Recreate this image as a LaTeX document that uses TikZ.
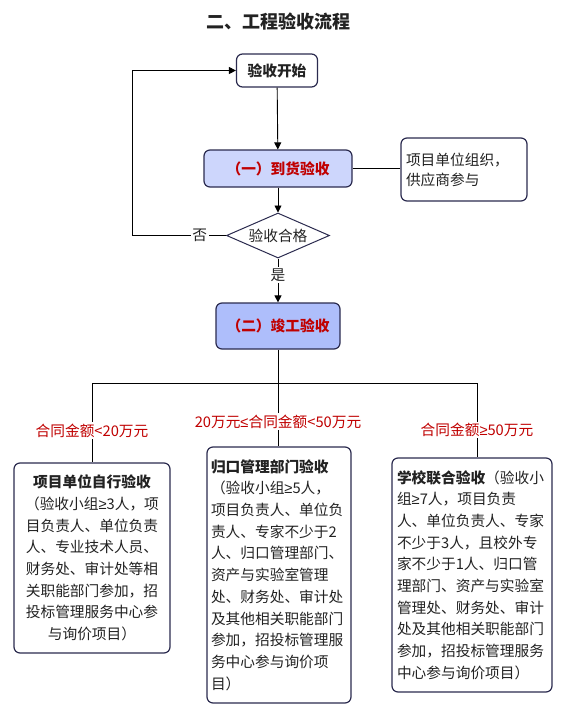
\documentclass[tikz,border=0pt]{standalone}
\usepackage{fontspec}
\setmainfont{Noto Sans CJK SC}
\newfontfamily\symfont{Liberation Sans}
\usetikzlibrary{shapes.geometric, arrows.meta, positioning, calc}

\definecolor{boxline}{HTML}{2B2B4F}
\definecolor{lightblue}{HTML}{CDD6FC}
\definecolor{midblue}{HTML}{AEBEFB}
\definecolor{darkred}{HTML}{C00000}
\definecolor{ink}{HTML}{222222}

\newcommand{\gesym}{{\symfont ≥}}
\newcommand{\lesym}{{\symfont ≤}}

\begin{document}
\begin{tikzpicture} [
    x=1pt, y=-1pt,
    font=\fontsize{14.7}{21.7}\selectfont, text=ink,
    block/.style={rectangle, draw=boxline, line width=1.2pt, fill=white, rounded corners=6pt, inner sep=0pt},
    stage_block/.style={block, font=\fontsize{14.7}{21.7}\selectfont\bfseries, text=darkred},
    decision/.style={diamond, aspect=2.3, draw=boxline, line width=1pt, fill=white, inner sep=0pt, minimum width=103pt, minimum height=45pt},
    line/.style={draw, -{Triangle[length=7pt,width=7pt]}, line width=0.9pt},
    plain/.style={draw, line width=0.9pt},
    anno/.style={fill=white, inner sep=1.5pt},
    cond/.style={fill=white, inner sep=1.5pt, text=darkred}
]
    \useasboundingbox (0,0) rectangle (562,716);

    % Nodes
    \node (title) at (278,22) {\fontsize{18}{22}\selectfont\bfseries 二、工程验收流程};
    \node[block, minimum width=81pt, minimum height=33pt, font=\fontsize{14.7}{21.7}\selectfont\bfseries] (start) at (277,70.5) {验收开始};
    \node[stage_block, fill=lightblue, minimum width=148pt, minimum height=37pt] (arrival) at (278,168.5) {（一）到货验收};
    \node[block, minimum width=126pt, minimum height=63pt, text width=116pt, align=left, font=\fontsize{14.7}{20}\selectfont] (note) at (464,169.5) {项目单位组织，\\供应商参与};
    \node[decision] (check) at (278,235.5) {验收合格};
    \node[stage_block, fill=midblue, minimum width=124pt, minimum height=46pt] (accept) at (278,326) {（二）竣工验收};

    \coordinate (loop_corner) at (132,235.5);
    \coordinate (split) at (278,383);
    \coordinate (split_left) at (92,383);
    \coordinate (split_right) at (477,383);

    \node[block, minimum width=156pt, minimum height=190pt, text width=140pt, align=center] (self_check) at (92,558)
        {\textbf{项目单位自行验收}\\（验收小组\gesym3人，项\\目负责人、单位负责\\人、专业技术人员、\\财务处、审计处等相\\关职能部门参加，招\\投标管理服务中心参\\与询价项目）};
    \node[block, minimum width=144pt, minimum height=256pt, text width=136pt, align=left] (dept_check) at (279,575)
        {\textbf{归口管理部门验收}\\（验收小组\gesym5人，\\项目负责人、单位负\\责人、专家不少于2\\人、归口管理部门、\\资产与实验室管理\\处、财务处、审计处\\及其他相关职能部门\\参加，招投标管理服\\务中心参与询价项\\目）};
    \node[block, minimum width=160pt, minimum height=234pt, text width=150pt, align=left] (school_check) at (472,575)
        {\textbf{学校联合验收}（验收小\\组\gesym7人，项目负责\\人、单位负责人、专家\\不少于3人，且校外专\\家不少于1人、归口管\\理部门、资产与实验室\\管理处、财务处、审计\\处及其他相关职能部门\\参加，招投标管理服务\\中心参与询价项目）};

    % Arrows
    \path [line] (start) -- (arrival);
    \path [plain] (arrival.east) -- (arrival.east -| note.west);
    \path [line] (arrival) -- (check);
    \path [line] (check.west) -- node[anno, pos=0.28] (no_label) {否} (loop_corner) |- (start.west);
    \path [line] (check.south) -- node[anno, pos=0.38] (yes_label) {是} (accept.north);
    \path [plain] (accept.south) -- (split);
    \path [plain] (split_left) -- (split_right);
    \path [plain] (split_left) -- node[cond, pos=0.6] (cond_low) {合同金额<20万元} (split_left |- self_check.north);
    \path [plain] (split) -- node[cond, pos=0.61] (cond_mid) {20万元\lesym 合同金额<50万元} (split |- dept_check.north);
    \path [plain] (split_right) -- node[cond, pos=0.63] (cond_high) {合同金额\gesym 50万元} (split_right |- school_check.north);

\end{tikzpicture}
\end{document}
